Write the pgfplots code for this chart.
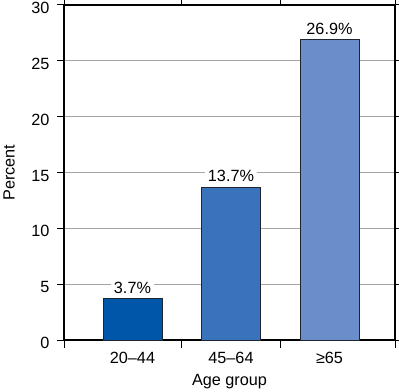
\documentclass[border=0pt]{standalone}
\usepackage{fontspec}
\setmainfont{Liberation Sans}
\usepackage{pgfplots}
\pgfplotsset{compat=1.18}
\definecolor{cA}{HTML}{0056A8}
\definecolor{cB}{HTML}{3A73BC}
\definecolor{cC}{HTML}{6B8DCA}
\definecolor{edge}{HTML}{1E2430}
\begin{document}
\fontsize{16.3}{19}\selectfont
\begin{tikzpicture}
\begin{axis}[
  scale only axis, width=331bp, height=335bp,
  xmin=-0.695, xmax=2.665, ymin=0, ymax=30,
  xtick={0,1,2}, xticklabels={20–44,45–64,≥65},
  major x tick style={draw=none},
  minor xtick={-0.695,0.5,1.5,2.665},
  minor x tick style={draw=black, line width=1pt},
  minor tick length=8bp,
  ytick={0,5,10,15,20,25,30},
  ymajorgrids, grid style={black!35, line width=0.8pt},
  tick align=outside, major tick length=7bp,
  y tick style={black, line width=1pt},
  axis line style={line width=1.5pt},
  /pgf/number format/assume math mode=true,
  yticklabel style={xshift=-2bp, yshift=-3bp},
  xticklabel style={yshift=0bp},
  ylabel={Percent}, xlabel={Age group},
  ylabel style={at={(axis description cs:-0.166,0.5)}, anchor=center},
  xlabel style={at={(axis description cs:0.5,-0.124)}, anchor=center},
  ybar, bar width=0.6, bar shift=0pt,
  point meta=explicit symbolic,
  nodes near coords,
  every node near coord/.append style={fill=white, inner xsep=3bp, inner ysep=1bp, anchor=south, yshift=4bp, font=\fontsize{16.3}{19}\selectfont},
]
\addplot[fill=cA, draw=edge, line width=0.8pt, bar shift=0pt] coordinates {(0,3.7) [3.7\%]};
\addplot[fill=cB, draw=edge, line width=0.8pt, bar shift=0pt] coordinates {(1,13.7) [13.7\%]};
\addplot[fill=cC, draw=edge, line width=0.8pt, bar shift=0pt] coordinates {(2,26.9) [26.9\%]};
\coordinate (ll) at (rel axis cs:0,0);
\coordinate (ur) at (rel axis cs:1,1);
\end{axis}
\pgfresetboundingbox
\path[use as bounding box] ([xshift=-64bp,yshift=-52bp]ll) rectangle ([xshift=4bp,yshift=5bp]ur);
\end{tikzpicture}
\end{document}
